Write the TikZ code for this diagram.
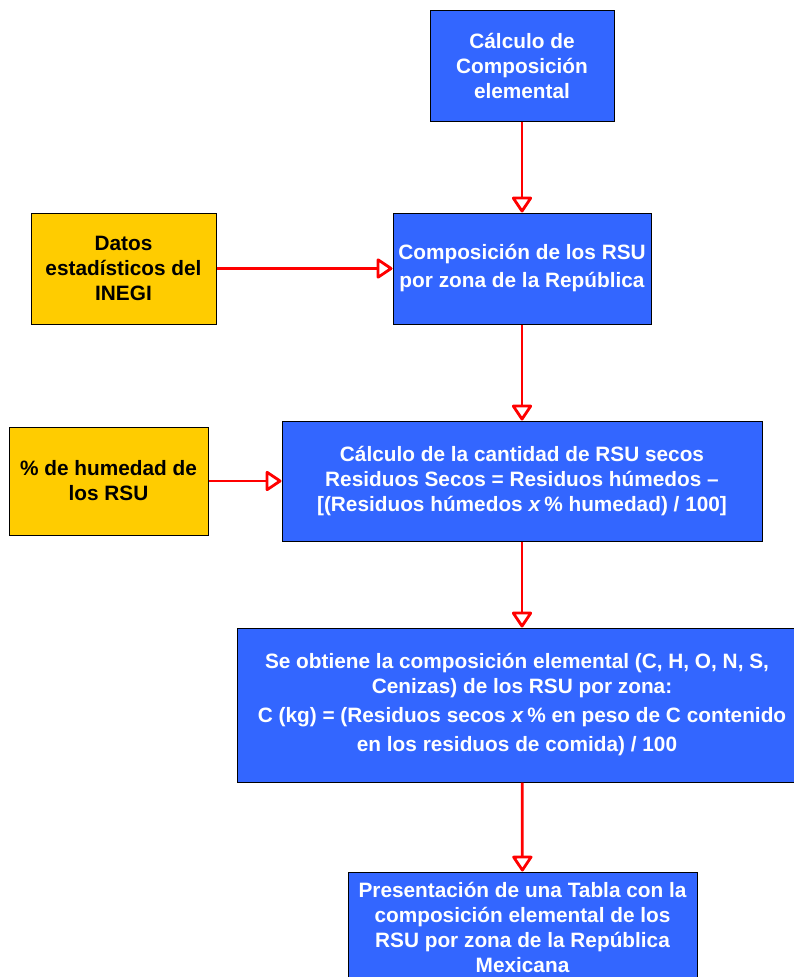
\documentclass[tikz,border=0pt]{standalone}
\usepackage{fontspec}
\setmainfont{Liberation Sans}
\usetikzlibrary{arrows.meta}
\definecolor{boxblue}{HTML}{3366FF}
\definecolor{boxyellow}{HTML}{FFCC00}
\begin{document}
\begin{tikzpicture}[x=1pt,y=-1pt,
  basebox/.style={draw=black, line width=1pt, align=center, inner sep=0pt,
    font=\bfseries\fontsize{20.8}{25}\selectfont},
  bluebox/.style={basebox, fill=boxblue, text=white},
  yellowbox/.style={basebox, fill=boxyellow, text=black},
  flow/.style={draw=red, line width=2.8pt,
    -{Triangle[open, length=17pt, width=22pt, line width=2.8pt, round]}}]
\useasboundingbox (0,0) rectangle (794,977);
\clip (0,0) rectangle (794,977);

\node[bluebox, minimum width=184pt, minimum height=111pt] (calc) at (522,65.5)
  {Cálculo de\\Composición\\elemental};
\node[bluebox, minimum width=258pt, minimum height=111pt] (comp) at (522,268.5)
  {Composición de los RSU\\[3pt]por zona de la República};
\node[yellowbox, minimum width=185pt, minimum height=111pt] (inegi) at (123.5,268.5)
  {Datos\\estadísticos del\\INEGI};
\node[bluebox, minimum width=480pt, minimum height=120pt] (secos) at (522,481)
  {Cálculo de la cantidad de RSU secos\\Residuos Secos = Residuos húmedos –\\{}[(Residuos húmedos \textit{x}\,\% humedad) / 100]};
\node[yellowbox, minimum width=199pt, minimum height=108pt] (hum) at (108.5,481)
  {\% de humedad de\\los RSU};
\node[bluebox, minimum width=570pt, minimum height=154pt] (elem) at (522,705)
  {Se obtiene la composición elemental (C, H, O, N, S,\hspace*{10pt}\\Cenizas) de los RSU por zona:\hspace*{10pt}\\[4pt]C (kg) = (Residuos secos \textit{x}\,\% en peso de C contenido\hspace*{10pt}\\[4pt]en los residuos de comida) / 100\hspace*{10pt}};
\node[bluebox, minimum width=349pt, minimum height=110pt] (tabla) at (522.5,927)
  {Presentación de una Tabla con la\\composición elemental de los\\RSU por zona de la República\\Mexicana};

\draw[flow] (calc) -- (comp);
\draw[flow] (inegi) -- (comp);
\draw[flow] (comp) -- (secos);
\draw[flow] (hum) -- (secos);
\draw[flow] (secos) -- (elem);
\draw[flow] (elem) -- (tabla);
\end{tikzpicture}
\end{document}
